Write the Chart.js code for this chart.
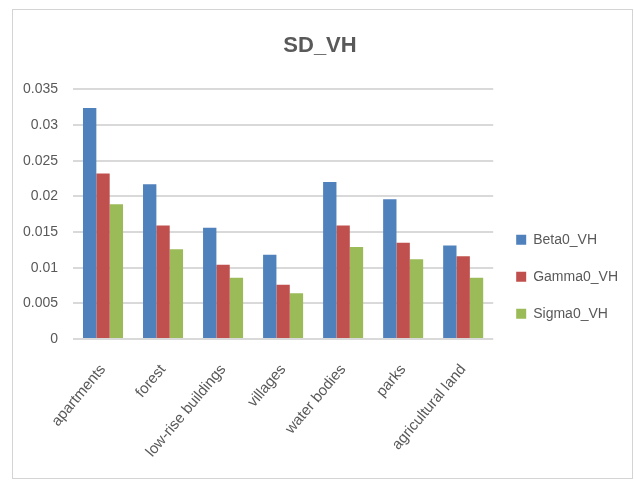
<!DOCTYPE html>
<html>
<head>
<meta charset="utf-8">
<title>SD_VH</title>
<script src="https://cdn.jsdelivr.net/npm/chart.js@4/dist/chart.umd.min.js"></script>
<style>
  html, body { margin: 0; padding: 0; background: #fff; }
  canvas { display: block; }
</style>
</head>
<body>
<canvas id="chart" width="634" height="484"></canvas>
<script>
// land cover classes on the x axis
const categories = ['apartments', 'forest', 'low-rise buildings', 'villages', 'water bodies', 'parks', 'agricultural land'];

// standard deviation per backscatter coefficient (VH)
const beta0VH = [0.0324, 0.0217, 0.0156, 0.0118, 0.0220, 0.0196, 0.0131];
const gamma0VH = [0.0232, 0.0159, 0.0104, 0.0076, 0.0159, 0.0135, 0.0116];
const sigma0VH = [0.0189, 0.0126, 0.0086, 0.0064, 0.0129, 0.0112, 0.0086];

const yTickLabels = ['0', '0.005', '0.01', '0.015', '0.02', '0.025', '0.03', '0.035'];

const FONT = "'Liberation Sans', Arial, sans-serif";
const TEXT = '#595959';

// white background + thin grey frame round the whole chart
const framePlugin = {
  id: 'frame',
  beforeDraw(chart) {
    const ctx = chart.ctx;
    ctx.save();
    ctx.fillStyle = '#fff';
    ctx.fillRect(0, 0, chart.width, chart.height);
    ctx.strokeStyle = '#d4d4d4';
    ctx.lineWidth = 1;
    ctx.strokeRect(12.5, 9.5, 620, 469);
    ctx.restore();
  }
};

const ctx = document.getElementById('chart');
new Chart(ctx, {
  type: 'bar',
  data: {
    labels: categories,
    datasets: [
      { label: 'Beta0_VH', data: beta0VH, backgroundColor: '#4F81BD' },
      { label: 'Gamma0_VH', data: gamma0VH, backgroundColor: '#C0504D' },
      { label: 'Sigma0_VH', data: sigma0VH, backgroundColor: '#9BBB59' }
    ]
  },
  options: {
    responsive: false,
    animation: false,
    categoryPercentage: 0.667,
    barPercentage: 1,
    layout: { padding: { left: 12, right: 6, top: 9, bottom: 24 } },
    plugins: {
      title: {
        display: true,
        text: 'SD_VH',
        color: TEXT,
        font: { family: FONT, size: 22, weight: 'bold' },
        padding: { top: 24, bottom: 30 }
      },
      legend: {
        position: 'right',
        // empty title only pushes the entries down to where they sit in the original
        title: { display: true, text: '', padding: { top: 0, bottom: 70 } },
        labels: {
          color: TEXT,
          font: { family: FONT, size: 14 },
          boxWidth: 10,
          boxHeight: 10,
          padding: 23
        }
      },
      tooltip: { enabled: false }
    },
    scales: {
      x: {
        grid: { display: false },
        border: { display: false },
        ticks: {
          color: TEXT,
          font: { family: FONT, size: 15 },
          minRotation: 50,
          maxRotation: 50,
          padding: 14,
          autoSkip: false
        },
        afterFit(scale) { scale.height = 121; }
      },
      y: {
        min: 0,
        max: 0.035,
        border: { display: false },
        grid: { color: '#d9d9d9', lineWidth: 2, drawTicks: false },
        ticks: {
          stepSize: 0.005,
          color: TEXT,
          font: { family: FONT, size: 14 },
          padding: 15,
          callback: (v, i) => yTickLabels[i]
        },
        afterFit(scale) { scale.width = 61; }
      }
    }
  },
  plugins: [framePlugin]
});
</script>
</body>
</html>
